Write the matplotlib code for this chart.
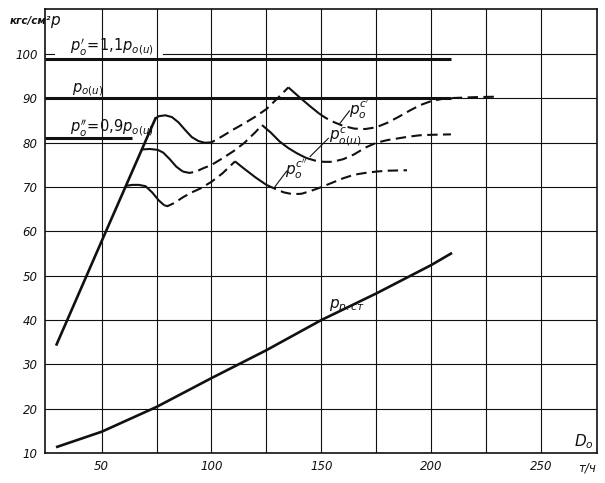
import matplotlib
matplotlib.use('Agg')
import matplotlib.pyplot as plt

plt.rcParams['mathtext.default'] = 'it'
plt.rcParams['font.family'] = ['DejaVu Sans']

# ── Data ─────────────────────────────────────────────────────
# rising solid start-up line
rise_x = [29.5, 50, 74.5]
rise_y = [34.5, 57.8, 85.5]

# p_o^c'
a_x = [74.5, 76, 79, 82, 85, 88, 91, 94, 97, 100, 105, 110, 115, 120, 125, 130, 135,
       140, 145, 149, 152, 156, 160, 165, 170, 175, 180, 185, 190, 195, 200, 205, 210, 220, 230]
a_y = [85.5, 86.0, 86.2, 85.8, 84.6, 82.9, 81.3, 80.4, 80.0, 80.1, 81.5, 83.0, 84.4, 85.9, 87.6, 90.0, 92.5,
       90.3, 88.2, 86.6, 85.6, 84.6, 83.8, 83.2, 83.1, 83.5, 84.5, 85.8, 87.2, 88.5, 89.4, 89.9, 90.1, 90.3, 90.4]

# p_o(u)^c
b_x = [68.3, 72, 75.5, 78, 81, 84, 87, 90, 93, 96, 100, 105, 110, 115, 120, 123,
       127, 131, 135, 139, 143, 147, 151, 155, 160, 165, 170, 175, 180, 185, 190, 195, 200, 209]
b_y = [78.5, 78.6, 78.4, 77.8, 76.3, 74.6, 73.5, 73.2, 73.5, 74.2, 75.0, 76.5, 78.1, 80.0, 82.4, 84.0,
       82.3, 80.3, 78.8, 77.6, 76.6, 76.0, 75.7, 75.7, 76.3, 77.4, 78.9, 80.0, 80.6, 81.0, 81.4, 81.7, 81.8, 81.9]

# p_o^c''
c_x = [61.1, 64, 67, 70, 73, 76, 78.5, 80, 83, 87, 91, 95, 100, 105, 110.7,
       115, 120, 125, 129, 133, 137, 141, 145, 149.5, 155, 160, 165, 170, 175, 180, 189]
c_y = [70.3, 70.5, 70.5, 70.2, 68.8, 67.0, 65.9, 65.7, 66.4, 67.7, 68.8, 69.7, 71.2, 73.1, 75.8,
       74.1, 72.2, 70.5, 69.6, 68.8, 68.4, 68.5, 69.1, 69.9, 71.0, 72.0, 72.8, 73.2, 73.5, 73.7, 73.8]

# p_р.ст
st_x = [29.8, 50, 75, 100, 125, 150, 175, 200, 209]
st_y = [11.4, 14.8, 20.4, 26.9, 33.2, 40.0, 46.0, 52.4, 55.0]

# reference pressure levels: 1.1 p, p, 0.9 p
ref_levels = [99, 90, 81]
ref_end = [209, 209, 64]

x_ticks = [50, 100, 150, 200, 250]
y_ticks = [10, 20, 30, 40, 50, 60, 70, 80, 90, 100]

# ── Figure ───────────────────────────────────────────────────
fig = plt.figure(figsize=(6.05, 4.83), dpi=100)
ax = fig.add_axes([0.0736, 0.0621, 0.9132, 0.9203])
ax.set_xlim(24, 275.5)
ax.set_ylim(10, 110.3)

INK = '#111111'
DASH = (5, 2.6)

# grid (the 100 line is broken under the 1,1 p label on the original)
for x in range(50, 275, 25):
    ax.axvline(x, color=INK, lw=0.8, zorder=1)
for y in range(20, 100, 10):
    ax.axhline(y, color=INK, lw=0.8, zorder=1)
ax.plot([24, 28.5], [100, 100], color=INK, lw=0.8, zorder=1)
ax.plot([78, 275.5], [100, 100], color=INK, lw=0.8, zorder=1)


def draw_curve(xs, ys, solid_spans, lw=1.5):
    # split into runs of solid / dashed pieces (style by segment midpoint)
    runs = []
    for i in range(len(xs) - 1):
        mid = 0.5 * (xs[i] + xs[i + 1])
        solid = any(a <= mid <= b for a, b in solid_spans)
        if runs and runs[-1][0] == solid:
            runs[-1][1].append(i + 1)
        else:
            runs.append([solid, [i, i + 1]])
    for solid, idx in runs:
        px = [xs[k] for k in idx]
        py = [ys[k] for k in idx]
        if solid:
            ax.plot(px, py, color=INK, lw=lw, solid_capstyle='butt', zorder=3)
        else:
            ax.plot(px, py, color=INK, lw=lw, dashes=DASH, zorder=3)


ax.plot(rise_x, rise_y, color=INK, lw=1.9, zorder=3)
draw_curve(a_x, a_y, [(74, 98), (135, 149)])
draw_curve(b_x, b_y, [(68, 88), (123, 143)])
draw_curve(c_x, c_y, [(61, 78), (110.7, 125)])
ax.plot(st_x, st_y, color=INK, lw=1.9, zorder=3)

for lev, xe in zip(ref_levels, ref_end):
    ax.plot([24, xe], [lev, lev], color=INK, lw=2.2, solid_capstyle='butt', zorder=3)

# ── Leaders & curve labels ──────────────────────────────────
ax.plot([158.5, 162.8], [84.4, 87.2], color=INK, lw=0.8, zorder=3)
ax.plot([144.9, 153.2], [76.9, 81.0], color=INK, lw=0.8, zorder=3)
ax.plot([128.9, 134.2], [70.1, 73.6], color=INK, lw=0.8, zorder=3)

LBL = dict(color=INK, fontsize=11, ha='left', va='baseline', zorder=4)
ax.text(162.5, 86.3, r"$p_o^{c'}$", **LBL)
ax.text(153.3, 80.8, r"$p_{o(u)}^{c}$", **LBL)
ax.text(133.6, 72.8, r"$p_o^{c''}$", **LBL)
ax.text(153.5, 42.6, r"$p_{р.ст}$", **LBL)

REF = dict(color=INK, fontsize=10.5, ha='left', va='baseline', zorder=4)
ax.text(35.5, 100.8, r"$p_o^{\prime}\!=\!1{,}1p_{o(u)}$", **REF)
ax.text(36.5, 91.4, r"$p_{o(u)}$", **REF)
ax.text(35.5, 82.6, r"$p_o^{\prime\prime}\!=\!0{,}9p_{o(u)}$", **REF)

ax.text(274, 11.6, r"$D_o$", color=INK, fontsize=11, ha='right', va='baseline')
ax.text(275, 6.6, 'т/ч', color=INK, fontsize=8.5, style='italic', ha='right',
        va='center', clip_on=False)
ax.text(26.3, 106.5, r"$p$", color=INK, fontsize=11, ha='left', va='baseline')
fig.text(0.016, 0.950, 'кгс/см²', color=INK, fontsize=7.5, style='italic',
         fontweight='bold', ha='left', va='baseline')

# ── Axes frame & ticks ───────────────────────────────────────
ax.set_xticks(x_ticks)
ax.set_yticks(y_ticks)
ax.set_xticklabels([str(v) for v in x_ticks], fontsize=8.5, style='italic')
ax.set_yticklabels([str(v) for v in y_ticks], fontsize=8.5, style='italic')
ax.tick_params(length=0, pad=5, colors=INK)
for s in ax.spines.values():
    s.set_color(INK)
    s.set_linewidth(1.2)

fig.savefig('out.png', dpi=100, facecolor='white')
